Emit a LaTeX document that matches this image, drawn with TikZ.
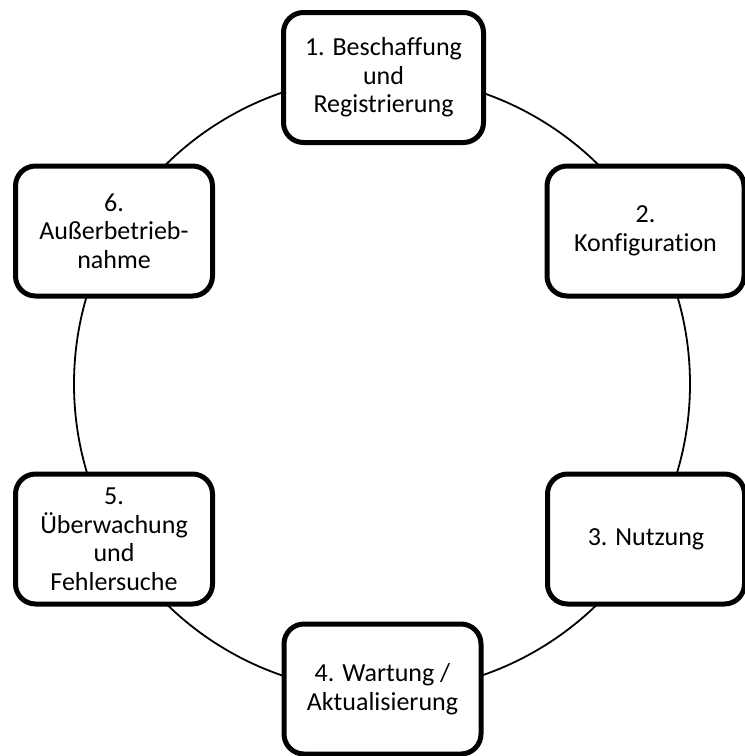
\documentclass[tikz,border=0pt]{standalone}
\usepackage{fontspec}
\setmainfont{Carlito}[Ligatures=NoCommon]
\begin{document}
\begin{tikzpicture}[x=1pt,y=-1pt,
  stage/.style={draw=black, line width=5pt, rounded corners=20pt, fill=white,
    minimum width=197pt, minimum height=130pt, align=center, inner sep=0pt,
    font=\fontsize{26}{28.5}\selectfont},
  ring/.style={draw=black, line width=1.8pt}]
\useasboundingbox (0,0) rectangle (745,756);
\coordinate (c) at (382,384);
\draw[ring] (c) circle [radius=308pt];
\node[stage, minimum width=200pt] (b1) at (383.5,77.5) {1. Beschaffung\\und\\Registrierung};
\node[stage] (b2) at (645.5,231) {2.\\Konfiguration};
\node[stage] (b3) at (646,539) {3. Nutzung};
\node[stage] (b4) at (382.5,689) {4. Wartung /\\Aktualisierung};
\node[stage] (b5) at (114,539) {5.\\Überwachung\\und\\Fehlersuche};
\node[stage] (b6) at (114,231) {6.\\Außerbetrieb-\\nahme};
\end{tikzpicture}
\end{document}
